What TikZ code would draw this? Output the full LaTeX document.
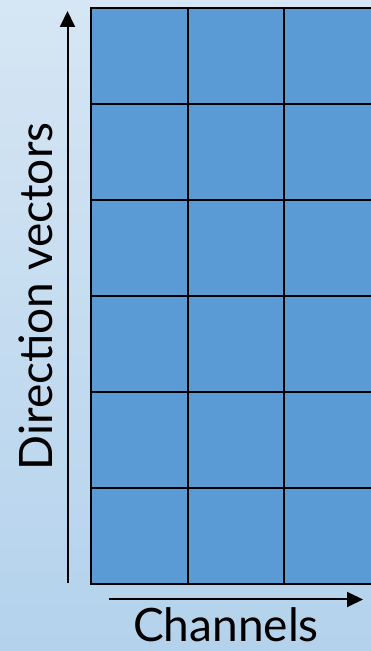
\documentclass[tikz,border=0pt]{standalone}
\usepackage{fontspec}
\setmainfont{Lato}
\usetikzlibrary{arrows.meta}
\definecolor{bgtop}{HTML}{D6E6F4}
\definecolor{bgbot}{HTML}{B4D2EC}
\definecolor{cellblue}{HTML}{5B9BD5}
\tikzset{
  gridline/.style={black, line width=2pt},
  axisarrow/.style={black, line width=2pt, -{Triangle[width=15pt,length=16pt]}},
  axislabel/.style={font=\fontsize{46}{50}\selectfont, inner sep=0pt, text=black}
}
\begin{document}
\begin{tikzpicture}[x=1pt,y=1pt]
\useasboundingbox (0,0) rectangle (371,651);
\shade[top color=bgtop, bottom color=bgbot] (0,0) rectangle (371,651);
\begin{scope}
\clip (0,0) rectangle (371,651);
\fill[cellblue] (91,67) rectangle (380,643);
\foreach \x in {91,187.5,284,380} \draw[gridline] (\x,67) -- (\x,643);
\foreach \i in {0,...,6} \draw[gridline] (90,67+96*\i) -- (381,67+96*\i);
\end{scope}
\coordinate (vstart) at (67.5,68);
\coordinate (vend) at (67.5,640);
\coordinate (hstart) at (108.5,51.5);
\coordinate (hend) at (363,51.5);
\draw[axisarrow] (vstart) -- (vend);
\draw[axisarrow] (hstart) -- (hend);
\node[axislabel, anchor=base, rotate=90] (ylabel) at (52,354.5) {Direction vectors};
\node[axislabel, anchor=base] (xlabel) at (226,9.5) {Channels};
\end{tikzpicture}
\end{document}
